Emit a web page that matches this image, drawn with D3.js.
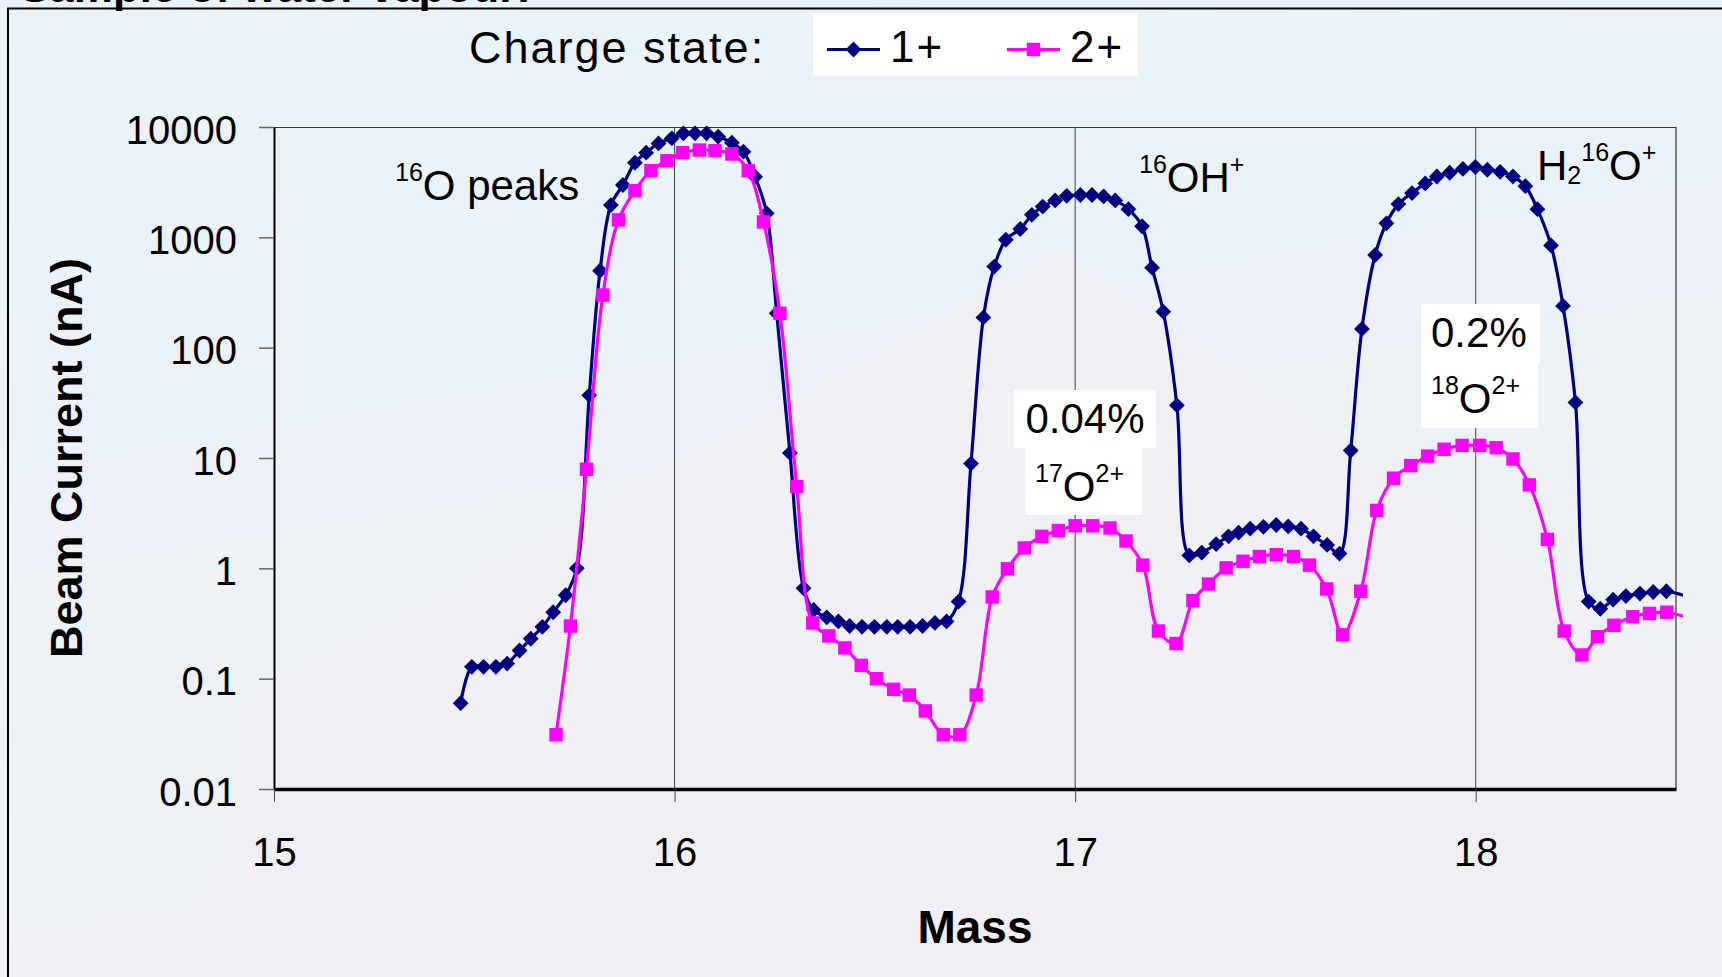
<!DOCTYPE html>
<html>
<head>
<meta charset="utf-8">
<script src="https://cdn.jsdelivr.net/npm/d3@7"></script>
<style>
  html, body { margin: 0; padding: 0; overflow: hidden; }
  body { width: 1722px; height: 977px; }
  text { font-family: "Liberation Sans", Arial, Helvetica, sans-serif; fill: #000; }
</style>
</head>
<body>
<script>
// beam current (nA) vs mass
const mass1 = [15.466, 15.494, 15.523, 15.554, 15.582, 15.613, 15.641, 15.670, 15.697, 15.728,
  15.756, 15.787, 15.814, 15.841, 15.871, 15.901, 15.929, 15.960, 15.993, 16.022,
  16.051, 16.080, 16.109, 16.143, 16.172, 16.201, 16.230, 16.255, 16.288, 16.322,
  16.347, 16.380, 16.409, 16.437, 16.468, 16.499, 16.530, 16.557, 16.588, 16.619,
  16.650, 16.679, 16.709, 16.740, 16.771, 16.798, 16.827, 16.863, 16.892, 16.919,
  16.950, 16.979, 17.013, 17.042, 17.071, 17.100, 17.133, 17.167, 17.192, 17.220,
  17.254, 17.285, 17.316, 17.352, 17.383, 17.408, 17.437, 17.470, 17.502, 17.532,
  17.564, 17.595, 17.629, 17.660, 17.688, 17.716, 17.749, 17.777, 17.807, 17.841,
  17.874, 17.903, 17.935, 17.968, 17.999, 18.029, 18.061, 18.093, 18.124, 18.154,
  18.188, 18.218, 18.249, 18.282, 18.311, 18.343, 18.375, 18.410, 18.443, 18.476, 18.561]
const current1 = [0.060, 0.128, 0.128, 0.128, 0.137, 0.18, 0.23, 0.295, 0.40, 0.57,
  1.0, 37, 498, 1960, 2980, 4740, 5850, 7100, 7900, 8770,
  8770, 8770, 8170, 7210, 5970, 3540, 1650, 205, 11.1, 0.66,
  0.42, 0.36, 0.33, 0.30, 0.295, 0.295, 0.295, 0.295, 0.295, 0.30,
  0.32, 0.33, 0.50, 8.9, 188, 543, 951, 1190, 1600, 1900,
  2160, 2380, 2420, 2420, 2350, 2160, 1800, 1260, 531, 212,
  30, 1.31, 1.39, 1.66, 1.95, 2.11, 2.29, 2.38, 2.47, 2.40,
  2.29, 1.95, 1.63, 1.36, 11.7, 148, 692, 1340, 2000, 2520,
  3080, 3560, 3850, 4170, 4340, 4100, 3920, 3560, 2910, 1800,
  845, 239, 31.9, 0.50, 0.43, 0.52, 0.56, 0.59, 0.61, 0.62, 0.51]

const mass2 = [15.704, 15.740, 15.780, 15.821, 15.860, 15.901, 15.941, 15.981, 16.020, 16.062,
  16.101, 16.143, 16.184, 16.222, 16.263, 16.305, 16.345, 16.385, 16.425, 16.466,
  16.504, 16.547, 16.586, 16.626, 16.671, 16.712, 16.753, 16.793, 16.831, 16.873,
  16.917, 16.958, 17.000, 17.044, 17.087, 17.127, 17.169, 17.208, 17.252, 17.294,
  17.333, 17.377, 17.419, 17.460, 17.502, 17.545, 17.585, 17.628, 17.668, 17.713,
  17.753, 17.795, 17.838, 17.880, 17.921, 17.966, 18.010, 18.051, 18.093, 18.134,
  18.179, 18.221, 18.265, 18.304, 18.345, 18.392, 18.434, 18.477, 18.561]
const current2 = [0.031, 0.30, 7.9, 300, 1440, 2650, 4020, 4940, 5850, 6180,
  6100, 5690, 4020, 1380, 205, 5.5, 0.32, 0.244, 0.19, 0.132,
  0.10, 0.080, 0.071, 0.051, 0.031, 0.031, 0.071, 0.55, 0.99, 1.53,
  1.95, 2.20, 2.43, 2.43, 2.32, 1.77, 1.07, 0.27, 0.208, 0.51,
  0.72, 1.01, 1.16, 1.28, 1.33, 1.28, 1.07, 0.65, 0.25, 0.62,
  3.35, 6.56, 8.53, 10.4, 12.0, 13.0, 13.0, 12.4, 9.8, 5.7,
  1.83, 0.27, 0.164, 0.24, 0.305, 0.364, 0.39, 0.40, 0.325]

const seriesNames = ['1+', '2+']
const seriesColors = ['#000080', '#ff00ff']
const massTicks = [15, 16, 17, 18]
const currentTicks = [0.01, 0.1, 1, 10, 100, 1000, 10000]
const currentTickLabels = ['0.01', '0.1', '1', '10', '100', '1000', '10000']

const W = 1722, H = 977
const margin = {top: 127, right: 46, bottom: 188, left: 274}
const width = W - margin.left - margin.right
const height = H - margin.top - margin.bottom
const font = '"Liberation Sans", Arial, sans-serif'

const x = d3.scaleLinear().domain([15, 18.5]).range([0, width])
const y = d3.scaleLog().domain([0.01, 10000]).range([height, 0])

const svg = d3.select('body').append('svg')
  .attr('width', W)
  .attr('height', H)

// background
const defs = svg.append('defs')
const bg = defs.append('linearGradient')
  .attr('id', 'bg').attr('x1', 0).attr('y1', 0).attr('x2', 0.3).attr('y2', 1)
bg.append('stop').attr('offset', '0%').attr('stop-color', '#e8f3f8')
bg.append('stop').attr('offset', '100%').attr('stop-color', '#eff0f5')
svg.append('rect').attr('width', W).attr('height', H).attr('fill', 'url(#bg)')
svg.append('path')
  .attr('d', 'M1060,250 L1722,700 L1722,977 L200,977 L250,700 Z')
  .attr('fill', '#f1eef5').attr('opacity', 0.6)

defs.append('clipPath').attr('id', 'plotclip')
  .append('rect')
  .attr('x', -10).attr('y', -12)
  .attr('width', width + 17).attr('height', height + 24)

// slide title, cut off by the top of the picture as in the original
svg.append('text')
  .attr('x', 20).attr('y', 2)
  .attr('font-size', 44).attr('font-weight', 'bold')
  .text('Sample of water vapour:')

svg.append('path')
  .attr('d', `M8,${H} L8,8.5 L${W},8.5`)
  .attr('fill', 'none').attr('stroke', '#000').attr('stroke-width', 2)

const g = svg.append('g')
  .attr('transform', `translate(${margin.left},${margin.top})`)

// top / right border and vertical gridlines
g.append('path')
  .attr('d', `M0,0.5 H${width} V${height}`)
  .attr('fill', 'none').attr('stroke', '#333').attr('stroke-width', 1.2)

g.append('g').selectAll('line')
  .data(massTicks.slice(1))
  .join('line')
  .attr('x1', d => x(d)).attr('x2', d => x(d))
  .attr('y1', 0).attr('y2', height)
  .attr('stroke', '#444').attr('stroke-width', 1)

// Y axis
const yAxis = g.append('g')
  .call(d3.axisLeft(y)
    .tickValues(currentTicks)
    .tickFormat((d, i) => currentTickLabels[i])
    .tickSize(15)
    .tickSizeOuter(0)
    .tickPadding(22))
yAxis.select('.domain').attr('stroke', '#000').attr('stroke-width', 2)
yAxis.selectAll('.tick line').attr('stroke', '#666').attr('stroke-width', 1.5)
yAxis.selectAll('.tick text')
  .attr('font-family', font).attr('font-size', 40).attr('fill', '#000')
  .attr('dy', '0.4em')

// X axis
const xAxis = g.append('g')
  .attr('transform', `translate(0,${height})`)
  .call(d3.axisBottom(x)
    .tickValues(massTicks)
    .tickFormat(d3.format('d'))
    .tickSize(13)
    .tickSizeOuter(0)
    .tickPadding(36))
xAxis.select('.domain').attr('stroke', '#000').attr('stroke-width', 3.5)
xAxis.selectAll('.tick line').attr('stroke', '#444').attr('stroke-width', 1)
xAxis.selectAll('.tick text')
  .attr('font-family', font).attr('font-size', 40).attr('fill', '#000')

// axis titles
svg.append('text')
  .attr('transform', `translate(82,${margin.top + height / 2}) rotate(-90)`)
  .attr('text-anchor', 'middle')
  .attr('font-size', 45).attr('font-weight', 'bold')
  .text('Beam Current (nA)')

svg.append('text')
  .attr('x', margin.left + width / 2).attr('y', 943)
  .attr('text-anchor', 'middle')
  .attr('font-size', 46).attr('font-weight', 'bold')
  .text('Mass')

// series
const series = [
  {name: seriesNames[0], color: seriesColors[0], shape: 'diamond',
    values: mass1.map((m, i) => ({m: m, v: current1[i]}))},
  {name: seriesNames[1], color: seriesColors[1], shape: 'square',
    values: mass2.map((m, i) => ({m: m, v: current2[i]}))}
]

const line = d3.line()
  .x(d => x(d.m))
  .y(d => y(d.v))
  .curve(d3.curveCatmullRom.alpha(0.5))

const diamond = d3.symbol().type(d3.symbolSquare).size(125)
const square = d3.symbol().type(d3.symbolSquare).size(180)

const plot = g.append('g').attr('clip-path', 'url(#plotclip)')

series.forEach(s => {
  const sg = plot.append('g')
  sg.append('path')
    .datum(s.values)
    .attr('d', line)
    .attr('fill', 'none')
    .attr('stroke', s.color)
    .attr('stroke-width', 3.2)
  sg.selectAll('path.marker')
    .data(s.values)
    .join('path')
    .attr('class', 'marker')
    .attr('d', s.shape === 'diamond' ? diamond : square)
    .attr('transform', d => `translate(${x(d.m)},${y(d.v)})` + (s.shape === 'diamond' ? ' rotate(45)' : ''))
    .attr('fill', s.color)
})

// annotations
function richText(parent, x0, y0, parts) {
  const t = parent.append('text').attr('x', x0).attr('y', y0)
  let shift = 0
  parts.forEach(p => {
    const target = p[1] === 'sup' ? -19 : p[1] === 'sub' ? 4 : 0
    t.append('tspan')
      .attr('dy', target - shift)
      .attr('font-size', p[1] === 'n' ? 42 : 25)
      .text(p[0])
    shift = target
  })
  return t
}

richText(svg, 395, 200, [['16', 'sup'], ['O peaks', 'n']])
richText(svg, 1139, 192, [['16', 'sup'], ['OH', 'n'], ['+', 'sup']])
richText(svg, 1537, 180, [['H', 'n'], ['2', 'sub'], ['16', 'sup'], ['O', 'n'], ['+', 'sup']])

svg.append('rect').attr('x', 1014).attr('y', 390).attr('width', 142).attr('height', 58).attr('fill', '#fff')
svg.append('rect').attr('x', 1025).attr('y', 447).attr('width', 117).attr('height', 68).attr('fill', '#fff')
svg.append('text').attr('x', 1085).attr('y', 433).attr('text-anchor', 'middle')
  .attr('font-size', 42).text('0.04%')
richText(svg, 1035, 501, [['17', 'sup'], ['O', 'n'], ['2+', 'sup']])

svg.append('rect').attr('x', 1421).attr('y', 304).attr('width', 119).attr('height', 60).attr('fill', '#fff')
svg.append('rect').attr('x', 1421).attr('y', 363).attr('width', 117).attr('height', 65).attr('fill', '#fff')
svg.append('text').attr('x', 1431).attr('y', 347)
  .attr('font-size', 42).text('0.2%')
richText(svg, 1431, 413, [['18', 'sup'], ['O', 'n'], ['2+', 'sup']])

// legend
const legend = svg.append('g')
legend.append('text')
  .attr('x', 469).attr('y', 63)
  .attr('font-size', 45).attr('letter-spacing', 2)
  .text('Charge state:')
legend.append('rect')
  .attr('x', 813).attr('y', 13).attr('width', 325).attr('height', 63)
  .attr('fill', '#fff')

const legendX = [827, 1007]
series.forEach((s, i) => {
  const lx = legendX[i]
  legend.append('line')
    .attr('x1', lx).attr('x2', lx + 53)
    .attr('y1', 49.5).attr('y2', 49.5)
    .attr('stroke', s.color).attr('stroke-width', 3)
  legend.append('path')
    .attr('d', s.shape === 'diamond' ? diamond : square)
    .attr('transform', `translate(${lx + 26.5},49.5)` + (s.shape === 'diamond' ? ' rotate(45)' : ''))
    .attr('fill', s.color)
  legend.append('text')
    .attr('x', lx + 63).attr('y', 62)
    .attr('font-size', 44).attr('letter-spacing', 2)
    .text(s.name)
})
</script>
</body>
</html>
